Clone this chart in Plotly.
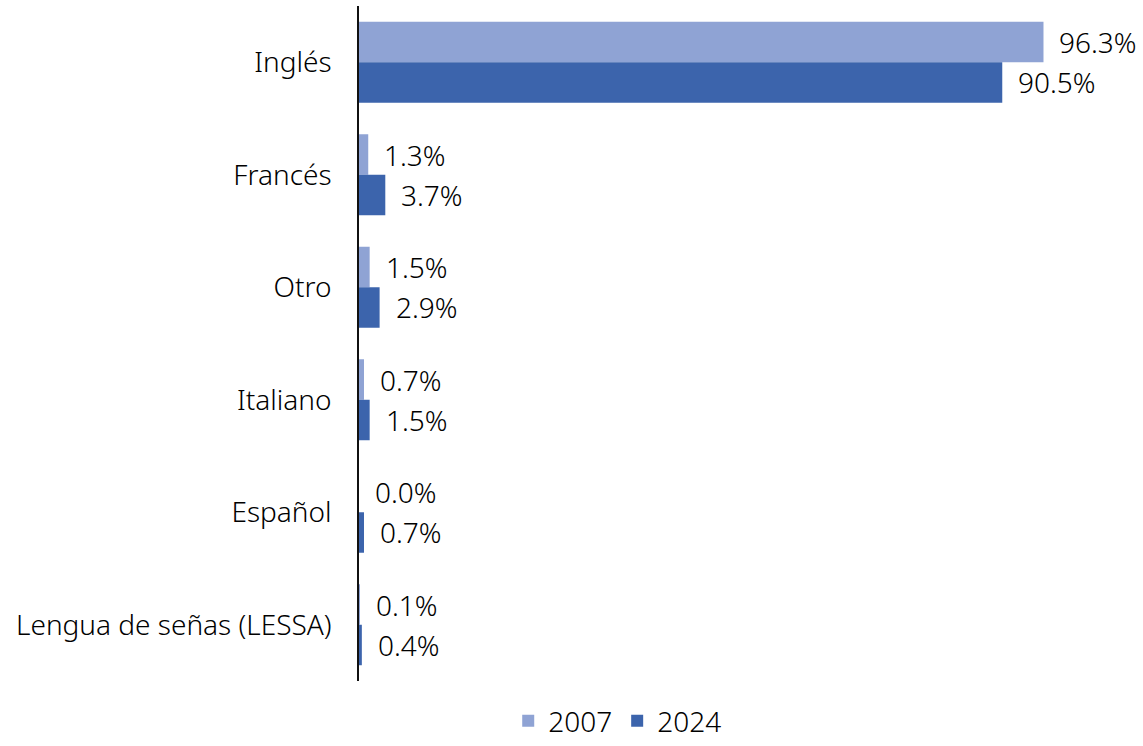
import plotly.graph_objects as go

# Languages studied, share of respondents (%)
languages = ["Inglés", "Francés", "Otro", "Italiano", "Español", "Lengua de señas (LESSA)"]
share_2007 = [96.3, 1.3, 1.5, 0.7, 0.0, 0.1]
share_2024 = [90.5, 3.7, 2.9, 1.5, 0.7, 0.4]

color_2007 = "#8FA3D4"
color_2024 = "#3C64AC"
font_family = "Noto Sans"
font_size = 28
font_weight = 300

fig = go.Figure()
fig.add_trace(go.Bar(name="2007", y=languages, x=share_2007, orientation="h",
                     marker=dict(color=color_2007, line=dict(width=0))))
fig.add_trace(go.Bar(name="2024", y=languages, x=share_2024, orientation="h",
                     marker=dict(color=color_2024, line=dict(width=0))))

label_font = dict(size=font_size, color="#000000", family=font_family, weight=font_weight)

# value labels placed just past the end of each bar
annotations = []
for lang, v in zip(languages, share_2007):
    annotations.append(dict(x=v, y=lang, xref="x", yref="y", text=f"{v:.1f}%",
                            showarrow=False, xanchor="left", xshift=14, yshift=20,
                            font=label_font))
for lang, v in zip(languages, share_2024):
    annotations.append(dict(x=v, y=lang, xref="x", yref="y", text=f"{v:.1f}%",
                            showarrow=False, xanchor="left", xshift=14, yshift=-20,
                            font=label_font))

fig.update_layout(
    width=1143, height=746,
    margin=dict(l=359, r=0, t=6, b=65),
    paper_bgcolor="white", plot_bgcolor="white",
    barmode="group", bargap=0.28, bargroupgap=0,
    font=label_font,
    xaxis=dict(range=[0, 110.3], visible=False, fixedrange=True),
    yaxis=dict(autorange="reversed", showline=True, linecolor="#111111", linewidth=1.6,
               showgrid=False, ticks="", ticklabelstandoff=20,
               tickfont=label_font),
    legend=dict(orientation="h", x=0.54, xref="container", xanchor="center",
                y=-0.022, yref="container", yanchor="bottom",
                font=label_font, itemwidth=30, traceorder="normal"),
    annotations=annotations,
    showlegend=True,
)

fig.write_html("out.html")
